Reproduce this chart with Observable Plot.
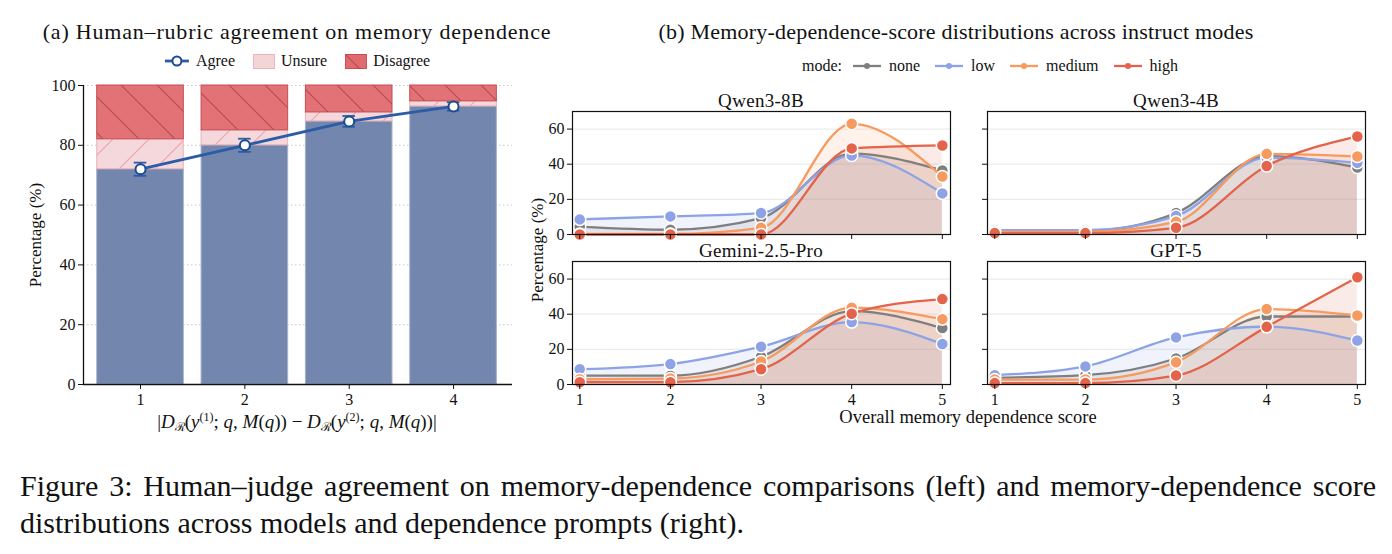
<!DOCTYPE html>
<html><head><meta charset="utf-8">
<script src="https://cdn.jsdelivr.net/npm/d3@7"></script>
<script src="https://cdn.jsdelivr.net/npm/@observablehq/plot@0.6"></script>
<style>
body{margin:0;background:#fff;}
#root{position:relative;width:1392px;height:554px;overflow:hidden;font-family:"Liberation Serif","Times New Roman",Tinos,"DejaVu Serif",serif;color:#111;}
.abs{position:absolute;white-space:nowrap;line-height:1;}
.c{transform:translate(-50%,-50%);}
.plot{position:absolute;}
.leg{display:flex;align-items:center;}
.leg svg{display:block;}
.ss{font-size:12px;position:relative;vertical-align:0;line-height:0;}
</style></head><body><div id="root"></div>
<script>
// ---------- data: left panel ----------
const diffLevels = [1, 2, 3, 4];
const agreePct  = [72, 80, 88, 93];
const unsurePct = [10, 5, 3, 1.7];
const agreeErr  = [2.2, 2.2, 1.8, 1.4];
const barCats   = ["Agree", "Unsure", "Disagree"];

// ---------- data: right panel ----------
const scores = [1, 2, 3, 4, 5];
const modes = ["none", "low", "medium", "high"];
const modeColors = ["#7f7f7f", "#8ea3e6", "#f79a5f", "#e3634b"];
const modelNames = ["Qwen3-8B", "Qwen3-4B", "Gemini-2.5-Pro", "GPT-5"];
const qwen3_8b = {none:[4.5,2.7,9.3,46,36.4], low:[8.6,10.3,12.2,45,23.4], medium:[0.3,0.3,3.8,63,33], high:[0,0,0,49,50.7]};
const qwen3_4b = {none:[2,2,12.2,44.6,38.1], low:[2.5,2.5,10.5,43.8,40.8], medium:[1.5,1.5,7.2,45.9,44.4], high:[0.8,0.8,3.8,39,55.8]};
const gemini25 = {none:[5,5,15.8,41.8,32.1], low:[8.7,11.6,21.5,35.5,23], medium:[3,3.4,13.1,43.7,37.2], high:[1.3,1.3,8.7,40.3,48.6]};
const gpt5     = {none:[3.8,5.3,14.8,38.7,38.7], low:[5.3,10.3,26.8,33,25], medium:[2.8,2.8,12.7,42.9,39.3], high:[0.8,0.8,5.1,32.8,61]};

const FONT = '"Liberation Serif", "Times New Roman", Tinos, "DejaVu Serif", serif';
const root = document.getElementById("root");
function put(html, x, y, cls = "abs c", style = "") {
  const d = document.createElement("div");
  d.className = cls; d.style.left = x + "px"; d.style.top = y + "px";
  if (style) d.style.cssText += style;
  d.innerHTML = html; root.appendChild(d); return d;
}
function placePlot(p, x, y) { p.classList.add("plot"); p.style.left = x + "px"; p.style.top = y + "px"; root.appendChild(p); }

function defsMark() {
  const ns = "http://www.w3.org/2000/svg";
  const g = document.createElementNS(ns, "defs");
  g.innerHTML = `
  <pattern id="hD" patternUnits="userSpaceOnUse" width="36" height="36">
    <path d="M0,0L36,36M-9,27L9,45M27,-9L45,9" stroke="#b64853" stroke-width="1.1" fill="none"/>
  </pattern>
  <pattern id="hU" patternUnits="userSpaceOnUse" width="36" height="36">
    <path d="M0,36L36,0M-9,9L9,-9M27,45L45,27" stroke="#eda3aa" stroke-width="1.1" fill="none"/>
  </pattern>`;
  return g;
}

// ---------- left panel ----------
const rows = diffLevels.map((d, i) => ({d, agree: agreePct[i], unsure: unsurePct[i], err: agreeErr[i]}));
const segs = rows.flatMap(r => [
  {d: r.d, cat: barCats[0], y1: 0, y2: r.agree},
  {d: r.d, cat: barCats[1], y1: r.agree, y2: r.agree + r.unsure},
  {d: r.d, cat: barCats[2], y1: r.agree + r.unsure, y2: 100}
]);
const hw = 0.415;
const xL = [0.4535, 4.565];
const segOf = c => segs.filter(s => s.cat === c);
const rectOpts = extra => ({x1: s => s.d - hw, x2: s => s.d + hw, y1: "y1", y2: "y2", ...extra});
const lineBlue = "#2b5ca6";

const leftPlot = Plot.plot({
  width: 530, height: 420, marginLeft: 83, marginRight: 18, marginTop: 85, marginBottom: 36,
  style: {fontFamily: FONT, fontSize: "16px", color: "#111", background: "transparent", overflow: "visible"},
  x: {domain: xL, label: null},
  y: {domain: [0, 100], label: null},
  marks: [
    defsMark,
    Plot.ruleY([20, 40, 60, 80, 100], {stroke: "#c9c9c9", strokeDasharray: "1.5,2.5"}),
    Plot.rectY(segOf("Agree"), rectOpts({fill: "#6c80aa", fillOpacity: 0.95, stroke: "#a5b1cb", strokeWidth: 1})),
    Plot.rectY(segOf("Unsure"), rectOpts({fill: "#f3d5d8", fillOpacity: 0.92, stroke: "#ecb3b8", strokeWidth: 1})),
    Plot.rectY(segOf("Unsure"), rectOpts({fill: "url(#hU)"})),
    Plot.rectY(segOf("Disagree"), rectOpts({fill: "#e06a6e", fillOpacity: 0.95, stroke: "#c64c56", strokeWidth: 1})),
    Plot.rectY(segOf("Disagree"), rectOpts({fill: "url(#hD)"})),
    Plot.line(rows, {x: "d", y: "agree", stroke: lineBlue, strokeWidth: 2.8}),
    Plot.ruleX(rows, {x: "d", y1: r => r.agree - r.err, y2: r => r.agree + r.err, stroke: lineBlue, strokeWidth: 1.8}),
    Plot.ruleY(rows, {y: r => r.agree - r.err, x1: r => r.d - 0.06, x2: r => r.d + 0.06, stroke: lineBlue, strokeWidth: 1.8}),
    Plot.ruleY(rows, {y: r => r.agree + r.err, x1: r => r.d - 0.06, x2: r => r.d + 0.06, stroke: lineBlue, strokeWidth: 1.8}),
    Plot.dot(rows, {x: "d", y: "agree", r: 5, fill: "white", stroke: "#1d4b8f", strokeWidth: 2}),
    Plot.ruleX([xL[0]], {stroke: "#111", strokeWidth: 1.3}),
    Plot.ruleY([0], {stroke: "#111", strokeWidth: 1.3}),
    Plot.axisY({ticks: [0, 20, 40, 60, 80, 100], tickSize: 5, tickPadding: 3, label: null}),
    Plot.axisX({ticks: diffLevels, tickFormat: d3.format("d"), tickSize: 5, tickPadding: 4, label: null})
  ]
});
placePlot(leftPlot, 0, 0);

// left texts
put("(a) Human–rubric agreement on memory dependence", 297, 32, "abs c", "font-size:22px;letter-spacing:0.8px;");
put(`<div class="leg" style="gap:6px;font-size:16px">
  <svg width="26" height="14"><line x1="1" y1="7" x2="25" y2="7" stroke="${lineBlue}" stroke-width="2.8"/><circle cx="13" cy="7" r="4.5" fill="white" stroke="#1d4b8f" stroke-width="2"/></svg><span>Agree</span>
  <svg width="22" height="15" style="margin-left:12px"><rect x="0.5" y="0.5" width="21" height="14" fill="#f3d5d8" stroke="#ecb3b8"/><rect x="0.5" y="0.5" width="21" height="14" fill="url(#hU)"/></svg><span>Unsure</span>
  <svg width="22" height="15" style="margin-left:12px"><rect x="0.5" y="0.5" width="21" height="14" fill="#e06a6e" stroke="#c64c56"/><rect x="0.5" y="0.5" width="21" height="14" fill="url(#hD)"/></svg><span>Disagree</span>
</div>`, 297, 61);
put("Percentage (%)", 35, 235, "abs", "font-size:17px;transform:translate(-50%,-50%) rotate(-90deg);");
put(`|<i>D</i><span class="ss" style="top:3px">ℛ</span>(<i>y</i><span class="ss" style="top:-7px">(1)</span>; <i>q</i>, <i>M</i>(<i>q</i>)) − <i>D</i><span class="ss" style="top:3px">ℛ</span>(<i>y</i><span class="ss" style="top:-7px">(2)</span>; <i>q</i>, <i>M</i>(<i>q</i>))|`, 297, 421, "abs c", "font-size:19px;");

// ---------- right panel ----------
const facetData = [qwen3_8b, qwen3_4b, gemini25, gpt5];
const facetPos = [[572, 111, true, false], [987, 111, false, false], [572, 261, true, true], [987, 261, false, true]];
facetData.forEach((fd, i) => {
  const [fx, fy, showY, showX] = facetPos[i];
  const marks = [Plot.ruleY([20, 40, 60], {stroke: "#ebebeb", strokeWidth: 1.3})];
  const series = modes.map((m, j) => ({m, col: modeColors[j], pts: scores.map((s, k) => ({score: s, v: fd[m][k]}))}));
  series.forEach(S => marks.push(Plot.areaY(S.pts, {x: "score", y1: 0, y2: "v", fill: S.col, fillOpacity: 0.13, curve: "monotone-x"})));
  series.forEach(S => {
    marks.push(Plot.line(S.pts, {x: "score", y: "v", stroke: S.col, strokeWidth: 2.3, curve: "monotone-x"}));
    marks.push(Plot.dot(S.pts, {x: "score", y: "v", fill: S.col, stroke: "white", strokeWidth: 1.5, r: 6}));
  });
  marks.push(Plot.frame({stroke: "#111", strokeWidth: 1.2}));
  marks.push(Plot.axisY({ticks: [0, 20, 40, 60], tickSize: 5, tickPadding: 3, label: null, tickFormat: showY ? d3.format("d") : () => ""}));
  marks.push(Plot.axisX({ticks: scores, tickSize: 5, tickPadding: 4, label: null, tickFormat: showX ? d3.format("d") : () => ""}));
  const p = Plot.plot({
    width: 428, height: 153, marginLeft: 40, marginRight: 10, marginTop: 5, marginBottom: 25,
    style: {fontFamily: FONT, fontSize: "16px", color: "#111", background: "transparent", overflow: "visible"},
    x: {domain: [0.92, 5.09], label: null},
    y: {domain: [0, 70], label: null},
    marks
  });
  placePlot(p, fx - 40, fy - 5);
  put(modelNames[i], fx + 189, fy - 11, "abs c", "font-size:19px;letter-spacing:0.3px;");
});

put("(b) Memory-dependence-score distributions across instruct modes", 956, 32, "abs c", "font-size:22px;letter-spacing:0.2px;");
const modeLeg = modes.map((m, j) => `<svg width="30" height="10" style="margin-left:${j ? 14 : 10}px;margin-right:7px"><line x1="1" y1="5" x2="29" y2="5" stroke="${modeColors[j]}" stroke-width="2.3"/><circle cx="15" cy="5" r="3" fill="${modeColors[j]}"/></svg><span>${m}</span>`).join("");
put(`<div class="leg" style="font-size:16px"><span>mode:</span>${modeLeg}</div>`, 990, 66);
put("Percentage (%)", 537, 250, "abs", "font-size:17px;transform:translate(-50%,-50%) rotate(-90deg);");
put("Overall memory dependence score", 968, 417, "abs c", "font-size:18.5px;");

// ---------- caption ----------
put("Figure 3: Human–judge agreement on memory-dependence comparisons (left) and memory-dependence score distributions across models and dependence prompts (right).",
  20, 467, "abs", "white-space:normal;width:1356px;font-size:30px;line-height:37px;text-align:justify;text-align-last:left;");
</script></body></html>
